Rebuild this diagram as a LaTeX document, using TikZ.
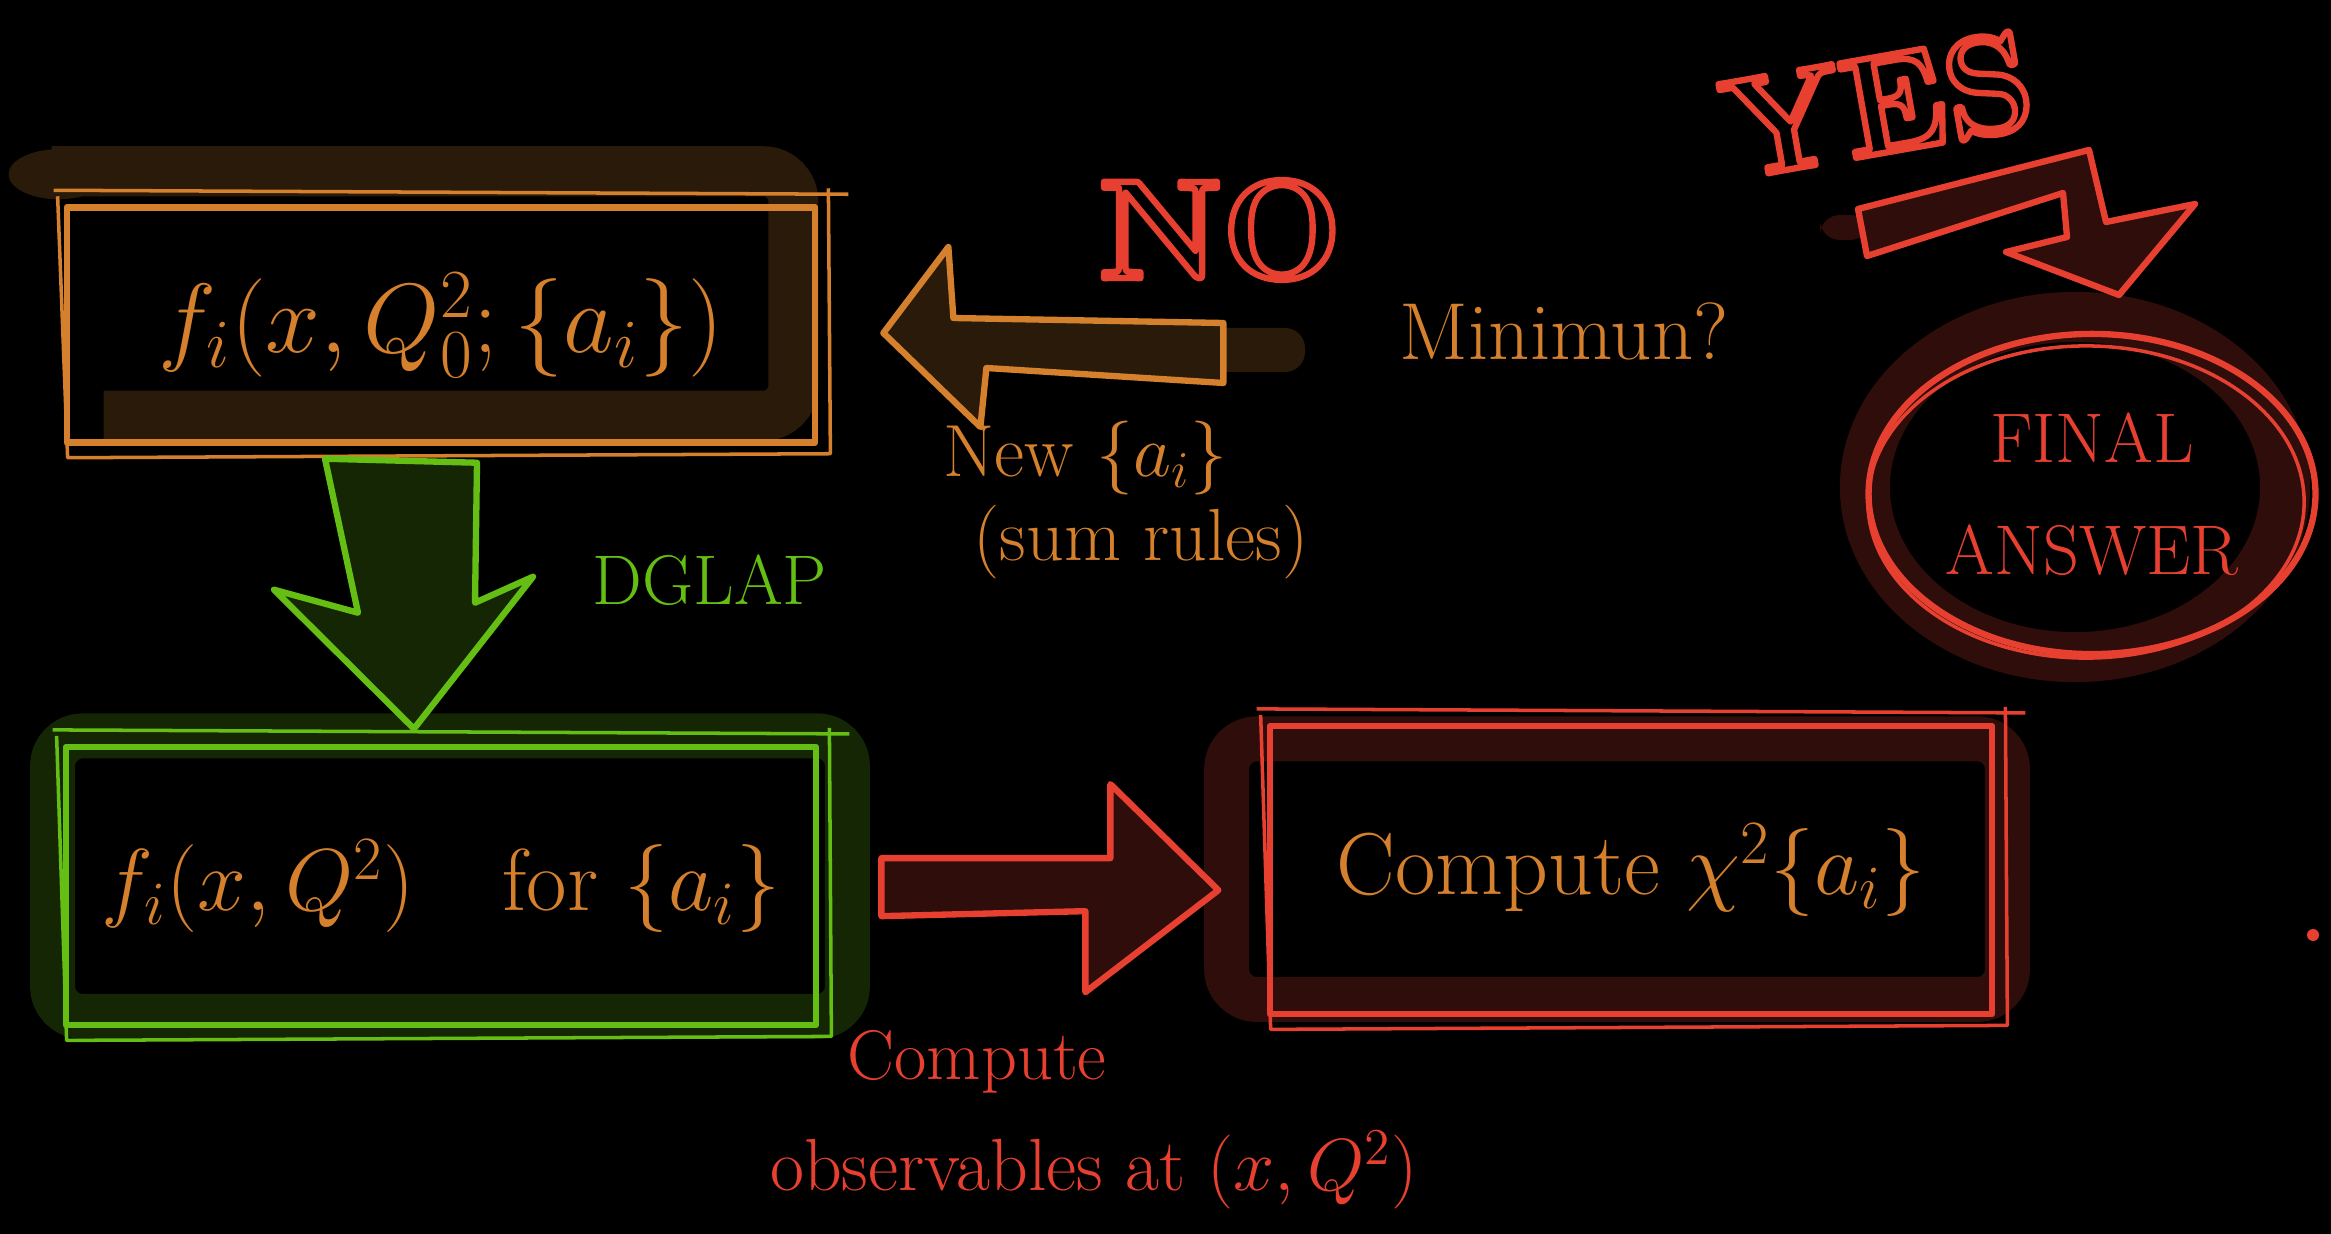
\documentclass[tikz,border=0pt]{standalone}
\usepackage{fix-cm}
\usepackage{amsmath,amssymb}
\usepackage{tikz}
\usetikzlibrary{arrows.meta,positioning,calc,shapes.geometric}

\definecolor{penorange}{RGB}{212,128,44}
\definecolor{penred}{RGB}{232,64,48}
\definecolor{pengreen}{RGB}{100,190,20}
\definecolor{smudgeorange}{RGB}{42,26,10}
\definecolor{smudgegreen}{RGB}{20,38,4}
\definecolor{smudgered}{RGB}{46,13,11}

\pgfdeclarelayer{board}
\pgfdeclarelayer{smudge}
\pgfsetlayers{board,smudge,main}

\newcommand{\hollow}[1]{\special{pdf:literal direct 1 Tr 1.8 w}#1\special{pdf:literal direct 0 Tr}}

\begin{document}
\begin{tikzpicture}[x=0.01cm, y=-0.01cm, line join=round, node distance=3cm]
  \tikzset{box/.style={draw, line width=1.8pt, inner sep=0pt, text=penorange, font=\fontsize{25}{30}\selectfont},
    note/.style={inner sep=0pt, font=\fontsize{21}{25}\selectfont},
    shout/.style={inner sep=0pt, text=penred, font=\fontsize{40}{40}\bfseries}}
  \begin{pgfonlayer}{board}
    \fill[black] (0,0) rectangle (2331,1234);
  \end{pgfonlayer}
  \useasboundingbox (0,0) rectangle (2331,1234);

  % boxes
  \node[box, draw=penorange, minimum width=7.48cm, minimum height=2.35cm, font=\fontsize{28}{32}\selectfont] (init) at (441,325) {$f_i(x,Q_0^2;\{a_i\})$};
  \node[box, draw=pengreen, minimum width=7.5cm, minimum height=2.78cm, below=2.98cm of init] (evol) {$f_i(x,Q^2)$\quad for $\{a_i\}$};
  \node[box, draw=penred, minimum width=7.22cm, minimum height=2.88cm, right=4.47cm of evol, yshift=0.16cm] (chi) {Compute $\chi^2\{a_i\}$};
  \node[ellipse, draw=penred, line width=1.8pt, minimum width=4.24cm, minimum height=3.2cm, text=penred, align=center, font=\fontsize{20}{32}\selectfont] (final) at (2092,494) {FINAL\\ANSWER};

  % brush smudges
  \begin{pgfonlayer}{smudge}
    \draw[smudgeorange, line width=0.5cm, rounded corners=0.3cm] ([shift={(-12,-33)}]init.north west) -- ([shift={(-25,-33)}]init.north east) -- ([shift={(-25,-30)}]init.south east) -- ([shift={(40,-30)}]init.south west);
    \fill[smudgeorange] ([shift={(-5,-30)}]init.north west) ellipse [x radius=0.5cm, y radius=0.25cm];
    \draw[smudgegreen, line width=0.45cm, rounded corners=0.3cm] ([shift={(-10,-8)}]evol.north west) rectangle ([shift={(28,-12)}]evol.south east);
    \draw[smudgered, line width=0.45cm, rounded corners=0.3cm] ([shift={(-40,16)}]chi.north west) rectangle ([shift={(12,-18)}]chi.south east);
    \draw[smudgered, line width=0.5cm] (2075,487) ellipse [x radius=2.1cm, y radius=1.7cm];
    \fill[smudgeorange, rounded corners=0.2cm] (1200,328) rectangle (1305,372);
    \fill[smudgered, rounded corners=0.2cm] (1820,215) rectangle (1870,240);
  \end{pgfonlayer}

  % second strokes of the sketch
  \foreach \b/\c in {init/penorange, evol/pengreen, chi/penred}
    \draw[\c, line width=1pt] ([shift={(-10,-14)}]\b.north west) -- ([shift={(30,-10)}]\b.north east)
      ([shift={(-6,-8)}]\b.north west) -- ([shift={(4,12)}]\b.south west) -- ([shift={(12,8)}]\b.south east) -- ([shift={(10,-16)}]\b.north east);
  \draw[penred, line width=1pt] (final.center) ++(-6,8) ellipse [x radius=2.18cm, y radius=1.56cm];

  % block arrows
  \draw[penorange, fill=smudgeorange, line width=1.8pt] ($(init.east)+(65,8)$) -- ++(65,-86) -- ++(5,71) -- ++(270,5) -- ++(0,60) -- ++(-237,-15) -- ++(-6,59) -- cycle;
  \draw[pengreen, fill=smudgegreen, line width=1.8pt] ($(init.south)+(-116,13)$) -- ++(152,4) -- ++(-2,140) -- ++(58,-26) -- ++(-119,152) -- ++(-140,-139) -- ++(84,23) -- cycle;
  \draw[penred, fill=smudgered, line width=1.8pt] ($(evol.east)+(62,-28)$) -- ++(229,0) -- ++(0,-74) -- ++(108,106) -- ++(-133,102) -- ++(0,-81) -- ++(-204,5) -- cycle;
  \draw[penred, fill=smudgered, line width=1.8pt] (1858,209) -- (2089,150) -- (2106,222) -- (2195,204) -- (2119,295) -- (2006,252) -- (2067,237) -- (2063,193) -- (1867,256) -- cycle;

  % labels
  \node[note, text=pengreen, font=\fontsize{20}{24}\selectfont] (dglap) at (710,580) {DGLAP};
  \node[note, text=penorange, font=\fontsize{23}{27}\selectfont] (minq) at (1564,331) {Minimun?};
  \node[note, text=penorange, align=left, anchor=west, font=\fontsize{21}{24}\selectfont] (newa) at (943,500) {New $\{a_i\}$\\\hspace*{0.3cm}(sum rules)};
  \node[note, text=penred, font=\fontsize{20}{24}\selectfont] (obsa) at (977,1062) {Compute};
  \node[note, text=penred, font=\fontsize{21}{25}\selectfont] (obsb) at (1094,1170) {observables at $(x,Q^2)$};
  \fill[penred] (2313,935) circle [radius=0.06cm];
  \node[shout] (no) at (1220,230) {\hollow{NO}};
  \node[shout, rotate=10] (yes) at (1878,105) {\hollow{YES}};
\end{tikzpicture}
\end{document}
